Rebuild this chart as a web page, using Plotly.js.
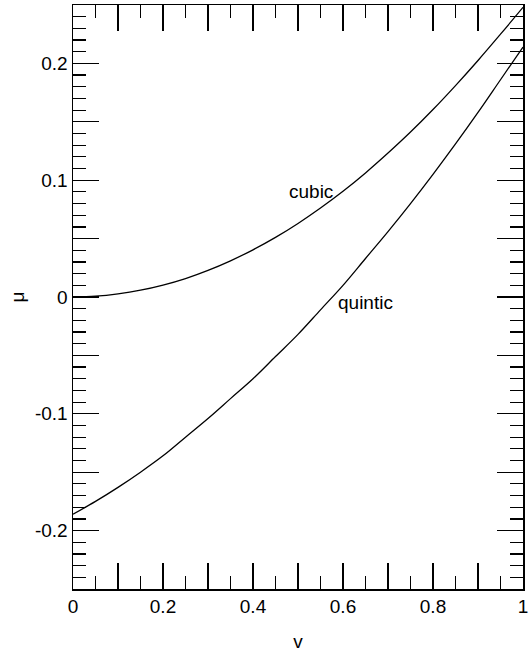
<!DOCTYPE html>
<html>
<head>
<meta charset="utf-8">
<script src="https://cdn.plot.ly/plotly-3.0.1.min.js"></script>
<style>html,body{margin:0;padding:0;background:#fff;}#chart{width:532px;height:652px;}</style>
</head>
<body>
<div id="chart"></div>
<script>
const vValues = [0, 0.05, 0.1, 0.15, 0.2, 0.25, 0.3, 0.35, 0.4, 0.45, 0.5, 0.55, 0.6, 0.65, 0.7, 0.75, 0.8, 0.85, 0.9, 0.95, 1.0];
const cubicMu = [0, 0.0007, 0.0027, 0.0058, 0.0102, 0.0158, 0.0228, 0.031, 0.0404, 0.051, 0.063, 0.0762, 0.0905, 0.1062, 0.1232, 0.1412, 0.1605, 0.181, 0.2025, 0.225, 0.248];
const quinticMu = [-0.186, -0.175, -0.163, -0.150, -0.136, -0.120, -0.104, -0.087, -0.070, -0.051, -0.032, -0.011, 0.010, 0.033, 0.056, 0.080, 0.105, 0.131, 0.158, 0.186, 0.214];

const xTickVals = [0, 0.1, 0.2, 0.3, 0.4, 0.5, 0.6, 0.7, 0.8, 0.9, 1.0];
const xTickText = ['0', '', '0.2', '', '0.4', '', '0.6', '', '0.8', '', '1'];
const yTickVals = [-0.25, -0.2, -0.15, -0.1, -0.05, 0, 0.05, 0.1, 0.15, 0.2, 0.25];
const yTickText = ['', '-0.2', '', '-0.1', '', '0', '', '0.1', '', '0.2', ''];

const curveLabels = [
  {text: 'cubic', v: 0.529, mu: 0.090},
  {text: 'quintic', v: 0.651, mu: -0.005}
];

const font = 'Liberation Sans, Arial, Helvetica, sans-serif';

const traces = [
  {x: vValues, y: cubicMu, mode: 'lines', line: {color: '#000', width: 1.3, shape: 'spline'}, showlegend: false, hoverinfo: 'none'},
  {x: vValues, y: quinticMu, mode: 'lines', line: {color: '#000', width: 1.3, shape: 'spline'}, showlegend: false, hoverinfo: 'none'}
];

const axisCommon = {
  showline: true, linecolor: '#000', linewidth: 1.5, mirror: 'allticks',
  ticks: 'inside', ticklen: 26, tickwidth: 1.2, tickcolor: '#000',
  showgrid: false, zeroline: false, tickmode: 'array',
  tickfont: {family: font, size: 19, color: '#000'}
};

const layout = {
  width: 532, height: 652,
  margin: {l: 73, r: 9, t: 5, b: 63},
  paper_bgcolor: '#fff', plot_bgcolor: '#fff',
  font: {family: font, color: '#000'},
  xaxis: Object.assign({}, axisCommon, {
    range: [0, 1], tickvals: xTickVals, ticktext: xTickText,
    minor: {dtick: 0.05, tick0: 0, ticks: 'inside', ticklen: 13, tickwidth: 1.2, tickcolor: '#000', showgrid: false},
    title: {text: 'v', font: {family: font, size: 19, color: '#000'}, standoff: 22}
  }),
  yaxis: Object.assign({}, axisCommon, {
    range: [-0.25, 0.25], tickvals: yTickVals, ticktext: yTickText,
    minor: {dtick: 0.01, tick0: 0, ticks: 'inside', ticklen: 13, tickwidth: 1.2, tickcolor: '#000', showgrid: false},
    title: {text: 'μ', font: {family: font, size: 19, color: '#000'}, standoff: 5}
  }),
  annotations: curveLabels.map(c => ({
    x: c.v, y: c.mu, xref: 'x', yref: 'y', text: c.text, showarrow: false,
    xanchor: 'center', yanchor: 'middle',
    font: {family: font, size: 19, color: '#000'}
  }))
};

Plotly.newPlot('chart', traces, layout, {displayModeBar: false, staticPlot: true});
</script>
</body>
</html>
